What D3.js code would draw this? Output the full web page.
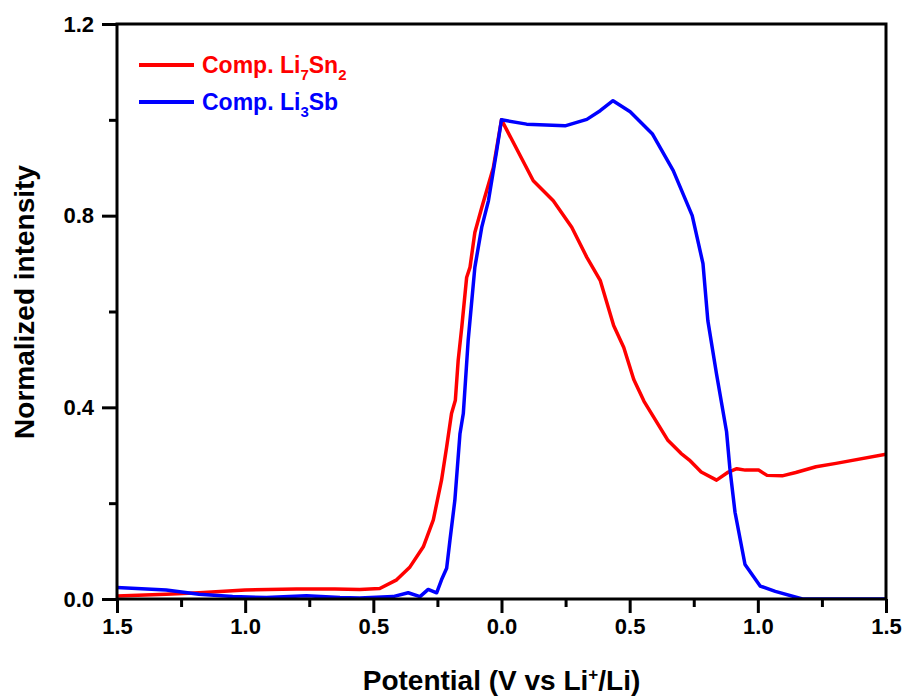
<!DOCTYPE html>
<html>
<head>
<meta charset="utf-8">
<script src="https://cdn.jsdelivr.net/npm/d3@7"></script>
<style>
  body { margin: 0; background: #fff; }
  svg { display: block; }
  text { font-family: "Liberation Sans", Arial, sans-serif; font-weight: bold; }
</style>
</head>
<body>
<div id="chart"></div>
<script>
// Potential position: negative = discharge side (labelled by absolute value), positive = charge side
const redX = [-1.5, -1.308, -1.18, -1.0, -0.8, -0.65, -0.553, -0.475, -0.409, -0.357, -0.305, -0.266, -0.234, -0.214, -0.195, -0.180, -0.169, -0.155, -0.136, -0.123, -0.104, -0.077, -0.058, -0.032, 0.0,
  0.124, 0.202, 0.274, 0.333, 0.385, 0.4375, 0.477, 0.516, 0.556, 0.648, 0.70, 0.733, 0.779, 0.839, 0.885, 0.918, 0.951, 1.003, 1.036, 1.095, 1.148, 1.227, 1.305, 1.5];
const redY = [0.006, 0.010, 0.013, 0.019, 0.021, 0.021, 0.020, 0.022, 0.040, 0.067, 0.109, 0.165, 0.248, 0.317, 0.387, 0.415, 0.498, 0.567, 0.671, 0.692, 0.765, 0.817, 0.852, 0.90, 1.0,
  0.873, 0.831, 0.776, 0.713, 0.665, 0.571, 0.525, 0.458, 0.4125, 0.332, 0.304, 0.29, 0.265, 0.248, 0.265, 0.272, 0.269, 0.269, 0.258, 0.257, 0.264, 0.276, 0.283, 0.302];

const blueX = [-1.5, -1.308, -1.18, -1.049, -0.917, -0.761, -0.63, -0.553, -0.423, -0.364, -0.318, -0.286, -0.253, -0.234, -0.214, -0.201, -0.182, -0.162, -0.149, -0.130, -0.104, -0.077, -0.051, -0.019, 0.0,
  0.098, 0.248, 0.333, 0.385, 0.435, 0.502, 0.588, 0.670, 0.744, 0.786, 0.805, 0.839, 0.878, 0.891, 0.911, 0.950, 1.009, 1.068, 1.174, 1.5];
const blueY = [0.024, 0.019, 0.010, 0.005, 0.003, 0.007, 0.003, 0.002, 0.005, 0.013, 0.005, 0.020, 0.013, 0.040, 0.064, 0.123, 0.206, 0.345, 0.387, 0.54, 0.692, 0.776, 0.831, 0.935, 1.0,
  0.991, 0.9875, 1.001, 1.019, 1.04, 1.017, 0.971, 0.894, 0.80, 0.70, 0.581, 0.469, 0.349, 0.272, 0.181, 0.072, 0.027, 0.016, 0.0, 0.0];

const xTickValues = [-1.5, -1.0, -0.5, 0.0, 0.5, 1.0, 1.5];
const xTickLabels = ["1.5", "1.0", "0.5", "0.0", "0.5", "1.0", "1.5"];
const xMinorValues = [-1.25, -0.75, -0.25, 0.25, 0.75, 1.25];
const yTickValues = [0.0, 0.4, 0.8, 1.2];
const yTickLabels = ["0.0", "0.4", "0.8", "1.2"];
const yMinorValues = [0.2, 0.6, 1.0];

const W = 903, H = 698;
const margin = {left: 117, right: 17, top: 24, bottom: 99};

const svg = d3.select("#chart").append("svg").attr("width", W).attr("height", H);

const x = d3.scaleLinear().domain([-1.5, 1.5]).range([margin.left, W - margin.right]);
const y = d3.scaleLinear().domain([0, 1.2]).range([H - margin.bottom, margin.top]);

const line = d3.line().x(d => x(d[0])).y(d => y(d[1]));
const redData = redX.map((v, i) => [v, redY[i]]);
const blueData = blueX.map((v, i) => [v, blueY[i]]);

svg.append("clipPath").attr("id", "clip").append("rect")
  .attr("x", x(-1.5)).attr("y", y(1.2)).attr("width", x(1.5) - x(-1.5)).attr("height", y(0) - y(1.2));

const g = svg.append("g").attr("clip-path", "url(#clip)");
g.append("path").datum(redData).attr("d", line).attr("fill", "none")
  .attr("stroke", "#ff0000").attr("stroke-width", 3.5).attr("stroke-linejoin", "round");
g.append("path").datum(blueData).attr("d", line).attr("fill", "none")
  .attr("stroke", "#0000ff").attr("stroke-width", 3.5).attr("stroke-linejoin", "round");

const xAxis = d3.axisBottom(x).tickValues(xTickValues).tickSize(14).tickPadding(5)
  .tickFormat((d, i) => xTickLabels[i]);
const xAxisMinor = d3.axisBottom(x).tickValues(xMinorValues).tickSize(8).tickFormat("");
const yAxis = d3.axisLeft(y).tickValues(yTickValues).tickSize(15).tickPadding(8)
  .tickFormat((d, i) => yTickLabels[i]);
const yAxisMinor = d3.axisLeft(y).tickValues(yMinorValues).tickSize(8).tickFormat("");

function style(sel) {
  sel.attr("font-size", null).attr("font-family", null);
  sel.select(".domain").remove();
  sel.selectAll(".tick line").attr("stroke", "#000").attr("stroke-width", 3);
  sel.selectAll(".tick text").attr("fill", "#000").style("font-size", "22px")
    .style("font-family", '"Liberation Sans", Arial, sans-serif').style("font-weight", "bold");
}
svg.append("g").attr("transform", `translate(0,${y(0)})`).call(xAxis).call(style);
svg.append("g").attr("transform", `translate(0,${y(0)})`).call(xAxisMinor).call(style);
svg.append("g").attr("transform", `translate(${x(-1.5)},0)`).call(yAxis).call(style);
svg.append("g").attr("transform", `translate(${x(-1.5)},0)`).call(yAxisMinor).call(style);

svg.append("rect").attr("x", x(-1.5)).attr("y", y(1.2))
  .attr("width", x(1.5) - x(-1.5)).attr("height", y(0) - y(1.2))
  .attr("fill", "none").attr("stroke", "#000").attr("stroke-width", 3);

// axis titles
const xt = svg.append("text").attr("x", (x(-1.5) + x(1.5)) / 2).attr("y", 690)
  .attr("text-anchor", "middle").style("font-size", "28px").attr("fill", "#000");
xt.append("tspan").text("Potential (V vs Li");
xt.append("tspan").text("+").attr("dy", -10).style("font-size", "17px");
xt.append("tspan").text("/Li)").attr("dy", 10);

svg.append("text").attr("transform", `translate(34,302) rotate(-90)`)
  .attr("text-anchor", "middle").style("font-size", "28px").attr("fill", "#000")
  .text("Normalized intensity");

// legend
const legend = [
  {color: "#ff0000", parts: [["Comp. Li", 0], ["7", 1], ["Sn", 0], ["2", 1]]},
  {color: "#0000ff", parts: [["Comp. Li", 0], ["3", 1], ["Sb", 0]]}
];
legend.forEach((L, i) => {
  const ly = 65 + i * 37;
  svg.append("line").attr("x1", 139).attr("x2", 194).attr("y1", ly).attr("y2", ly)
    .attr("stroke", L.color).attr("stroke-width", 4);
  const t = svg.append("text").attr("x", 202).attr("y", ly + 8).attr("fill", L.color)
    .style("font-size", "23px");
  let prevSub = 0;
  L.parts.forEach(p => {
    const sub = p[1];
    const dy = (sub - prevSub) * 7;
    t.append("tspan").text(p[0]).attr("dy", dy).style("font-size", sub ? "15px" : "23px");
    prevSub = sub;
  });
});
</script>
</body>
</html>
